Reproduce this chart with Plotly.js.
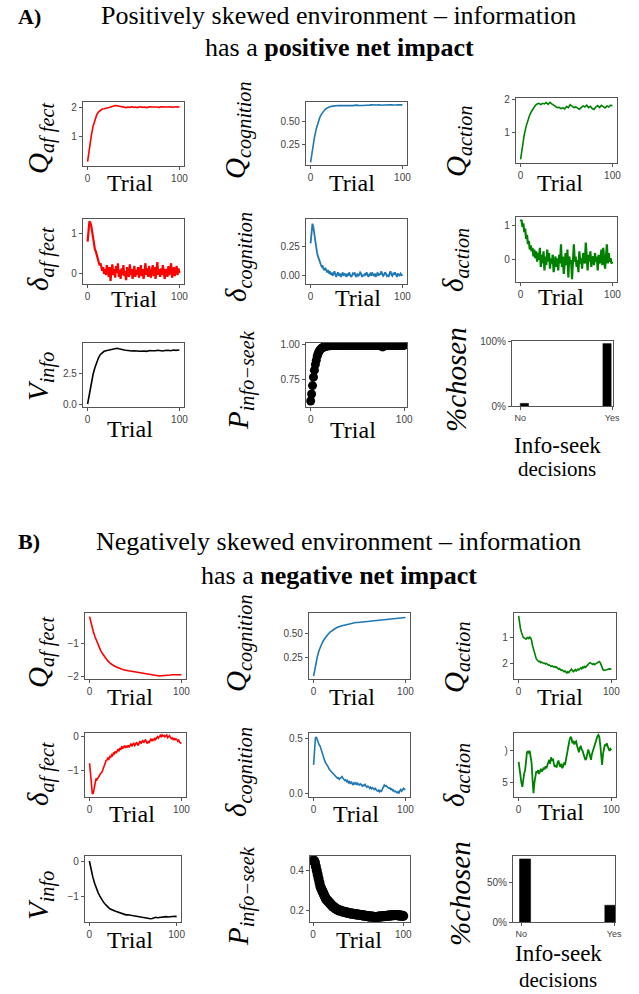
<!DOCTYPE html>
<html><head><meta charset="utf-8">
<script src="https://cdn.plot.ly/plotly-3.0.1.min.js"></script>
<style>html,body{margin:0;padding:0;background:#fff}#chart{width:639px;height:994px}</style>
</head><body><div id="chart"></div><script>
// ---------------- DATA ----------------
// Panel A: positively skewed environment. Series sampled every 2 trials (51 pts) or every trial (101 pts)
const A_Qaffect = [0.15,0.62,1.02,1.35,1.58,1.74,1.84,1.9,1.93,1.94,
  1.95,1.97,1.99,2.01,2.03,2.05,2.04,2.03,2.0,1.99,
  2.0,1.98,2.0,1.99,2.01,1.99,2.0,1.98,2.0,2.01,
  1.99,2.0,1.98,2.0,2.01,2.0,1.99,2.0,2.0,1.99,
  2.01,2.0,1.99,2.0,2.0,2.01,1.99,2.0,2.0,2.01,2.0];
const A_Qcognition = [0.05,0.19,0.31,0.41,0.48,0.54,0.58,0.61,0.63,0.645,
  0.655,0.66,0.665,0.67,0.668,0.672,0.67,0.675,0.672,0.67,
  0.673,0.675,0.672,0.67,0.674,0.676,0.673,0.67,0.668,0.672,
  0.675,0.673,0.676,0.678,0.675,0.673,0.677,0.68,0.676,0.674,
  0.677,0.679,0.676,0.678,0.68,0.677,0.675,0.678,0.68,0.677,0.678];
const A_Qaction = [0.2,0.6,0.95,1.2,1.4,1.55,1.66,1.75,1.83,1.88,
  1.9,1.86,1.9,1.88,1.92,1.87,1.93,1.88,1.84,1.8,
  1.77,1.78,1.74,1.76,1.73,1.8,1.77,1.86,1.8,1.77,
  1.79,1.75,1.72,1.77,1.82,1.79,1.84,1.77,1.81,1.74,
  1.71,1.79,1.83,1.77,1.84,1.8,1.76,1.82,1.79,1.84,1.83];
const A_dAffect = [0.8,1.05,1.32,1.28,1.2,1.05,0.9,0.72,0.6,0.55,
  0.45,0.38,0.32,0.2,0.25,0.12,0.05,0.15,-0.02,0.1,
  -0.05,0.2,0.08,-0.1,0.15,-0.2,0.05,0.22,-0.05,0.1,
  -0.12,0.18,0.0,0.25,-0.1,0.08,-0.15,0.12,-0.05,0.2,
  -0.08,0.05,-0.18,0.15,0.02,-0.1,0.22,-0.05,0.1,-0.15,
  0.05,0.18,-0.1,0.08,-0.05,0.15,-0.12,0.0,0.2,-0.08,
  0.1,-0.15,0.05,0.25,-0.05,0.12,-0.1,0.18,0.0,-0.12,
  0.08,0.2,-0.08,0.15,-0.15,0.05,0.28,-0.05,0.1,-0.1,
  0.12,-0.05,0.2,0.0,-0.15,0.1,0.05,-0.1,0.18,-0.05,
  0.08,0.25,-0.12,0.05,0.15,-0.08,0.1,0.18,-0.05,0.12,0.0];
const A_dCognition = [0.28,0.4,0.45,0.42,0.36,0.3,0.25,0.2,0.17,0.14,
  0.12,0.1,0.08,0.09,0.06,0.05,0.07,0.04,0.03,0.05,
  0.02,0.04,0.01,0.03,0.0,0.02,0.04,0.01,-0.01,0.02,
  0.03,0.0,0.02,-0.01,0.01,0.03,0.0,0.02,0.01,-0.01,
  0.02,0.0,0.03,0.01,-0.01,0.0,0.02,0.01,0.03,0.0,
  -0.01,0.02,0.0,0.01,0.03,0.02,-0.01,0.01,0.0,0.02,
  0.01,0.03,0.0,-0.01,0.01,0.02,0.0,0.03,0.01,0.0,
  0.02,-0.01,0.01,0.03,0.0,0.02,0.01,0.04,0.02,0.0,
  0.01,0.03,0.02,0.0,0.01,-0.01,0.02,0.04,0.01,0.0,
  0.02,0.01,0.03,0.0,-0.01,0.02,0.01,0.0,0.02,0.01,0.0];
const A_dAction = [1.1,1.15,0.95,1.05,0.8,0.9,0.6,0.72,0.45,0.55,
  0.3,0.42,0.25,0.35,0.1,0.3,0.05,0.25,-0.05,0.2,
  0.0,0.35,-0.2,0.15,-0.1,0.25,-0.3,0.1,-0.15,0.3,
  -0.05,0.2,-0.25,0.05,-0.1,0.15,-0.35,0.0,0.1,-0.2,
  0.05,-0.3,0.15,-0.1,0.45,-0.2,0.1,-0.4,0.05,0.2,
  -0.15,0.3,-0.5,0.1,-0.1,0.0,-0.55,0.15,0.45,-0.05,
  0.1,-0.2,0.0,-0.35,0.25,-0.1,0.05,-0.25,0.2,0.0,
  -0.1,0.5,0.0,-0.3,0.15,-0.05,0.25,-0.2,0.05,0.1,
  -0.15,0.2,-0.05,0.1,-0.3,0.15,-0.1,0.0,0.3,-0.15,
  0.35,0.0,-0.25,0.1,0.45,-0.1,0.2,-0.05,0.05,-0.1,-0.05];
const A_Vinfo = [0.0,0.9,1.7,2.4,2.95,3.4,3.75,4.0,4.15,4.25,
  4.3,4.33,4.35,4.37,4.4,4.45,4.5,4.45,4.4,4.38,
  4.35,4.33,4.3,4.32,4.28,4.3,4.26,4.28,4.25,4.27,
  4.3,4.28,4.25,4.3,4.32,4.3,4.28,4.3,4.33,4.31,
  4.3,4.28,4.32,4.35,4.33,4.3,4.34,4.36,4.33,4.35,4.36];
const A_Pinfo = [0.6,0.65,0.71,0.77,0.82,0.86,0.89,0.92,0.94,0.955,
  0.965,0.972,0.978,0.982,0.985,0.988,0.99,0.992,0.993,0.994,
  0.995,0.995,0.996,0.996,0.997,0.997,0.997,0.998,0.998,0.998,
  0.997,0.998,0.998,0.998,0.997,0.998,0.998,0.998,0.998,0.998,
  0.998,0.998,0.998,0.998,0.998,0.998,0.998,0.998,0.998,0.998,
  0.998,0.998,0.998,0.998,0.998,0.998,0.998,0.998,0.998,0.998,
  0.998,0.998,0.998,0.998,0.998,0.998,0.998,0.998,0.998,0.998,
  0.998,0.998,0.998,0.997,0.996,0.993,0.99,0.986,0.99,0.995,
  0.997,0.998,0.998,0.998,0.998,0.998,0.998,0.998,0.998,0.998,
  0.998,0.998,0.998,0.998,0.998,0.998,0.998,0.998,0.998,0.998,0.998];
const decisions = ["No","Yes"];
const A_chosen = [0.04, 0.96];

// Panel B: negatively skewed environment
const B_Qaffect = [-0.2,-0.45,-0.65,-0.82,-0.97,-1.1,-1.22,-1.32,-1.41,-1.49,
  -1.55,-1.6,-1.65,-1.68,-1.71,-1.74,-1.76,-1.78,-1.8,-1.82,
  -1.83,-1.84,-1.85,-1.86,-1.86,-1.87,-1.88,-1.89,-1.9,-1.91,
  -1.93,-1.94,-1.95,-1.97,-1.98,-1.99,-2.0,-2.0,-2.0,-1.99,
  -1.99,-1.98,-1.98,-1.97,-1.97,-1.96,-1.96,-1.95,-1.95,-1.96,-1.96];
const B_Qcognition = [0.05,0.16,0.25,0.32,0.37,0.41,0.44,0.47,0.49,0.51,
  0.525,0.54,0.55,0.56,0.57,0.575,0.58,0.585,0.59,0.595,
  0.6,0.6,0.605,0.61,0.61,0.612,0.615,0.617,0.62,0.62,
  0.622,0.625,0.625,0.627,0.63,0.63,0.632,0.633,0.635,0.638,
  0.64,0.642,0.645,0.647,0.65,0.652,0.655,0.657,0.66,0.661,0.663];
const B_Qaction = [-0.15,-0.45,-0.65,-0.78,-0.9,-0.98,-1.0,-1.02,-1.05,-1.0,
  -0.98,-1.02,-0.97,-1.0,-1.1,-1.3,-1.45,-1.6,-1.72,-1.8,
  -1.85,-1.9,-1.92,-1.9,-1.95,-1.93,-1.96,-1.98,-1.97,-2.0,
  -1.98,-2.02,-2.05,-2.04,-2.08,-2.1,-2.07,-2.1,-2.12,-2.1,
  -2.14,-2.12,-2.16,-2.2,-2.18,-2.22,-2.25,-2.23,-2.28,-2.3,
  -2.27,-2.32,-2.35,-2.3,-2.33,-2.28,-2.25,-2.2,-2.25,-2.3,
  -2.26,-2.22,-2.27,-2.24,-2.2,-2.23,-2.18,-2.15,-2.19,-2.12,
  -2.15,-2.1,-2.13,-2.08,-2.05,-2.02,-1.98,-1.95,-1.98,-2.0,
  -2.02,-1.99,-2.03,-2.0,-1.97,-1.95,-1.93,-1.91,-1.95,-2.05,
  -2.15,-2.22,-2.25,-2.24,-2.22,-2.23,-2.2,-2.21,-2.19,-2.2,-2.18];
const B_dAffect = [-0.8,-1.2,-1.55,-1.7,-1.68,-1.5,-1.35,-1.25,-1.28,-1.22,
  -1.2,-1.15,-1.1,-1.08,-1.02,-0.95,-0.85,-0.78,-0.72,-0.7,
  -0.65,-0.68,-0.6,-0.62,-0.55,-0.58,-0.5,-0.52,-0.45,-0.5,
  -0.42,-0.38,-0.45,-0.35,-0.4,-0.3,-0.37,-0.33,-0.28,-0.35,
  -0.3,-0.32,-0.27,-0.33,-0.28,-0.22,-0.3,-0.25,-0.2,-0.28,
  -0.25,-0.18,-0.22,-0.28,-0.2,-0.15,-0.22,-0.18,-0.12,-0.2,
  -0.15,-0.1,-0.18,-0.22,-0.15,-0.2,-0.12,-0.08,-0.15,-0.1,
  -0.12,-0.05,-0.1,-0.07,-0.02,-0.06,0.0,0.02,-0.03,0.03,
  0.0,0.02,-0.02,0.0,0.03,-0.05,-0.02,0.01,-0.04,-0.08,
  -0.05,-0.1,-0.06,-0.12,-0.08,-0.1,-0.15,-0.12,-0.18,-0.2,-0.22];
const B_dCognition = [0.26,0.4,0.5,0.51,0.48,0.45,0.44,0.43,0.4,0.37,
  0.35,0.32,0.3,0.28,0.27,0.25,0.24,0.22,0.21,0.2,
  0.19,0.18,0.17,0.16,0.155,0.15,0.14,0.145,0.13,0.14,
  0.15,0.155,0.14,0.13,0.12,0.125,0.11,0.12,0.1,0.11,
  0.09,0.11,0.1,0.08,0.1,0.09,0.1,0.08,0.095,0.09,
  0.08,0.09,0.085,0.07,0.08,0.075,0.085,0.07,0.06,0.07,
  0.065,0.05,0.06,0.045,0.055,0.05,0.04,0.05,0.035,0.03,
  0.025,0.035,0.02,0.03,0.025,0.05,0.07,0.08,0.07,0.075,
  0.065,0.06,0.05,0.055,0.04,0.045,0.03,0.035,0.02,0.025,
  0.015,0.01,0.02,0.01,0.03,0.04,0.025,0.035,0.05,0.04,0.045];
const B_dAction = [-1.17,-1.3,-1.4,-1.5,-1.56,-1.42,-1.35,-1.3,-1.15,-1.02,
  -1.01,-1.03,-1.0,-1.1,-1.19,-1.45,-1.66,-1.5,-1.38,-1.32,
  -1.34,-1.3,-1.36,-1.33,-1.28,-1.32,-1.3,-1.26,-1.29,-1.24,
  -1.27,-1.22,-1.18,-1.14,-1.2,-1.1,-1.15,-1.12,-1.2,-1.25,
  -1.22,-1.26,-1.18,-1.15,-1.22,-1.25,-1.2,-1.27,-1.24,-1.18,
  -1.22,-1.12,-1.05,-0.98,-0.9,-0.82,-0.78,-0.8,-0.88,-0.84,
  -0.9,-0.86,-0.85,-0.92,-0.98,-1.02,-0.95,-0.92,-0.98,-1.0,
  -1.05,-1.1,-1.14,-1.12,-1.05,-0.98,-1.02,-1.1,-1.14,-1.05,
  -1.0,-0.96,-0.9,-0.85,-0.8,-0.77,-0.75,-0.78,-0.9,-1.1,
  -1.22,-1.05,-0.93,-0.9,-0.92,-0.88,-0.93,-0.98,-1.0,-0.97,-0.99];
const B_Vinfo = [0.0,-0.25,-0.45,-0.62,-0.77,-0.88,-0.98,-1.07,-1.14,-1.2,
  -1.26,-1.3,-1.34,-1.37,-1.38,-1.4,-1.42,-1.44,-1.46,-1.47,
  -1.49,-1.5,-1.5,-1.51,-1.52,-1.52,-1.53,-1.54,-1.55,-1.55,
  -1.56,-1.57,-1.58,-1.59,-1.6,-1.61,-1.6,-1.58,-1.57,-1.58,
  -1.57,-1.56,-1.56,-1.55,-1.55,-1.56,-1.55,-1.54,-1.55,-1.54,-1.55];
const B_Pinfo = [0.45,0.45,0.44,0.42,0.4,0.38,0.36,0.34,0.32,0.31,
  0.3,0.29,0.28,0.27,0.26,0.255,0.25,0.245,0.24,0.235,
  0.23,0.225,0.22,0.218,0.215,0.21,0.208,0.205,0.203,0.2,
  0.2,0.198,0.196,0.195,0.194,0.193,0.192,0.19,0.19,0.188,
  0.187,0.186,0.185,0.185,0.184,0.183,0.182,0.182,0.181,0.18,
  0.18,0.179,0.178,0.178,0.177,0.176,0.175,0.175,0.174,0.173,
  0.172,0.172,0.171,0.17,0.17,0.17,0.169,0.169,0.168,0.168,
  0.168,0.168,0.169,0.17,0.17,0.171,0.171,0.172,0.172,0.172,
  0.173,0.173,0.174,0.174,0.175,0.175,0.176,0.176,0.177,0.177,
  0.177,0.178,0.178,0.177,0.177,0.176,0.175,0.175,0.174,0.174,0.173];
const B_chosen = [0.79, 0.21];

const trialTicks = [0, 100];
const trialTickText = ["0", "100"];

// ---------------- LAYOUT / STYLE ----------------
const W = 639, H = 994;
const RED = "#ff0000", BLUE = "#1f77b4", GREEN = "#008000", BLACK = "#000000";
const SERIF = "Liberation Serif, Times New Roman, serif";
const SANS = "Liberation Sans, Arial, sans-serif";

// box = [left, right, top, bottom] in pixels
const panels = [
  {y:A_Qaffect, dx:2, color:RED, lw:1.6, box:[83,184,102,166], yr:[0.0,2.17], yt:[1,2], ytt:["1","2"],
   label:"<i>Q</i><sub><i>af fect</i></sub>", lab:[40,138], tr:[130,183]},
  {y:A_Qcognition, dx:2, color:BLUE, lw:1.6, box:[306,407,102,165], yr:[0.02,0.71], yt:[0.25,0.5], ytt:["0.25","0.50"],
   label:"<i>Q</i><sub><i>cognition</i></sub>", lab:[238,130], tr:[352,183]},
  {y:A_Qaction, dx:2, color:GREEN, lw:1.6, box:[516,617,98,163], yr:[0.09,2.06], yt:[1,2], ytt:["1","2"],
   label:"<i>Q</i><sub><i>action</i></sub>", lab:[458,141], tr:[560,183]},
  {y:A_dAffect, dx:1, color:RED, lw:2.2, box:[83,184,219,284], yr:[-0.28,1.38], yt:[0,1], ytt:["0","1"],
   label:"<i>δ</i><sub><i>af fect</i></sub>", lab:[40,259], tr:[134,299]},
  {y:A_dCognition, dx:1, color:BLUE, lw:1.8, box:[306,407,219,284], yr:[-0.07,0.49], yt:[0,0.25], ytt:["0.00","0.25"],
   label:"<i>δ</i><sub><i>cognition</i></sub>", lab:[238,257], tr:[358,298]},
  {y:A_dAction, dx:1, color:GREEN, lw:2.2, box:[516,617,217,282], yr:[-0.63,1.23], yt:[0,1], ytt:["0","1"],
   label:"<i>δ</i><sub><i>action</i></sub>", lab:[455,260], tr:[561,297]},
  {y:A_Vinfo, dx:2, color:BLACK, lw:1.6, box:[83,184,343,407], yr:[-0.24,4.92], yt:[0,2.5], ytt:["0.0","2.5"],
   label:"<i>V</i><sub><i>info</i></sub>", lab:[40,377], tr:[130,429]},
  {y:A_Pinfo, dx:1, color:BLACK, markers:true, msize:9, box:[306,407,343,407], yr:[0.557,1.014], yt:[0.75,1.0], ytt:["0.75","1.00"], xr:[-5,103],
   label:"<i>P</i><sub><i>info−seek</i></sub>", lab:[240,380], tr:[353,430]},
  {bars:A_chosen, box:[512,613,341,406], yr:[0,1.0], yt:[0,1], ytt:["0%","100%"], bw:0.09, boff:[0,-0.1],
   label:"<i>%chosen</i>", lab:[456,380], tr:null},

  {y:B_Qaffect, dx:2, color:RED, lw:1.6, box:[85,186,613,679], yr:[-2.09,-0.09], yt:[-2,-1], ytt:["−2","−1"],
   label:"<i>Q</i><sub><i>af fect</i></sub>", lab:[40,652], tr:[130,697]},
  {y:B_Qcognition, dx:2, color:BLUE, lw:1.6, box:[309,410,613,679], yr:[0.02,0.71], yt:[0.25,0.5], ytt:["0.25","0.50"],
   label:"<i>Q</i><sub><i>cognition</i></sub>", lab:[238,643], tr:[352,697]},
  {y:B_Qaction, dx:1, color:GREEN, lw:1.6, box:[514,616,613,679], yr:[-2.58,-0.04], yt:[-2,-1], ytt:["2","1"],
   label:"<i>Q</i><sub><i>action</i></sub>", lab:[456,657], tr:[560,697]},
  {y:B_dAffect, dx:1, color:RED, lw:1.6, box:[85,186,733,797], yr:[-1.79,0.09], yt:[-1,0], ytt:["−1","0"],
   label:"<i>δ</i><sub><i>af fect</i></sub>", lab:[40,774], tr:[132,814]},
  {y:B_dCognition, dx:1, color:BLUE, lw:1.6, box:[309,410,733,797], yr:[-0.027,0.545], yt:[0,0.5], ytt:["0.0","0.5"],
   label:"<i>δ</i><sub><i>cognition</i></sub>", lab:[238,772], tr:[356,814]},
  {y:B_dAction, dx:1, color:GREEN, lw:1.8, box:[514,616,733,797], yr:[-1.72,-0.72], yt:[-1.5,-1.0], ytt:["5",")"],
   label:"<i>δ</i><sub><i>action</i></sub>", lab:[456,775], tr:[561,812]},
  {y:B_Vinfo, dx:2, color:BLACK, lw:1.6, box:[85,181,856,922], yr:[-1.70,0.14], yt:[-1,0], ytt:["−1","0"],
   label:"<i>V</i><sub><i>info</i></sub>", lab:[40,896], tr:[130,940]},
  {y:B_Pinfo, dx:1, color:BLACK, markers:true, msize:10, box:[310,410,856,922], yr:[0.143,0.473], yt:[0.2,0.4], ytt:["0.2","0.4"], xr:[-3.5,107.5],
   label:"<i>P</i><sub><i>info−seek</i></sub>", lab:[240,896], tr:[359,940]},
  {bars:B_chosen, box:[513,615,856,922], yr:[0,0.827], yt:[0,0.5], ytt:["0%","50%"], bw:0.12, boff:[-0.02,-0.1],
   label:"<i>%chosen</i>", lab:[460,893], tr:null}
];

const traces = [];
const layout = {
  width: W, height: H, margin: {l:0, r:0, t:0, b:0},
  paper_bgcolor: "#fff", plot_bgcolor: "#fff", showlegend: false,
  annotations: [], font: {family: SANS}
};

const axisCommon = {
  showline: true, mirror: true, linecolor: "#555", linewidth: 1.1,
  showgrid: false, zeroline: false, ticks: "outside", ticklen: 3, tickwidth: 1, tickcolor: "#555",
  tickfont: {family: SANS, size: 10, color: "#444"}, fixedrange: true
};

function ann(text, cx, cy, size, opts) {
  layout.annotations.push(Object.assign({
    text: text, xref: "paper", yref: "paper", x: cx / W, y: 1 - cy / H,
    xanchor: "center", yanchor: "middle", showarrow: false,
    font: {family: SERIF, size: size, color: "#000"}
  }, opts || {}));
}

panels.forEach((p, i) => {
  const n = i + 1;
  const xa = "x" + n, ya = "y" + n;
  const [l, r, t, b] = p.box;
  const xDom = [l / W, r / W], yDom = [1 - b / H, 1 - t / H];
  if (p.bars) {
    traces.push({type: "bar", x: decisions, y: p.bars, xaxis: xa, yaxis: ya,
      width: p.bw, offset: p.boff, marker: {color: "#000", line: {color: "#000", width: 0.5}}});
    layout["xaxis" + n] = Object.assign({}, axisCommon, {domain: xDom, anchor: ya, type: "category",
      range: [-0.09, 1.01], tickfont: {family: SANS, size: 9, color: "#444"}});
  } else {
    const tr = {type: "scatter", y: p.y, x0: 0, dx: p.dx, xaxis: xa, yaxis: ya, hoverinfo: "skip"};
    if (p.markers) {
      tr.mode = "markers"; tr.marker = {color: "#000", size: p.msize};
      tr.cliponaxis = true;
    } else {
      tr.mode = "lines"; tr.line = {color: p.color, width: p.lw};
    }
    traces.push(tr);
    layout["xaxis" + n] = Object.assign({}, axisCommon, {domain: xDom, anchor: ya,
      range: p.xr || [-5, 105], tickvals: trialTicks, ticktext: trialTickText});
  }
  layout["yaxis" + n] = Object.assign({}, axisCommon, {domain: yDom, anchor: xa,
    range: p.yr, tickvals: p.yt, ticktext: p.ytt});
  ann(p.label, p.lab[0], p.lab[1], 29, {textangle: -90});
  if (p.tr) ann("Trial", p.tr[0], p.tr[1], 24);
});

// Extra axis titles for the bar panels
ann("Info-seek", 557, 446, 23);
ann("decisions", 557, 469, 21);
ann("Info-seek", 558, 953, 23);
ann("decisions", 558, 980, 21);

// Panel headers
ann("<b>A)</b>", 29, 17, 22);
ann("Positively skewed environment – information", 338, 16, 26);
ann("has a <b>positive net impact</b>", 339, 47, 26);
ann("<b>B)</b>", 29, 541, 22);
ann("Negatively skewed environment – information", 338, 541, 26);
ann("has a <b>negative net impact</b>", 339, 575, 26);

Plotly.newPlot("chart", traces, layout, {staticPlot: true, displayModeBar: false});
</script></body></html>
